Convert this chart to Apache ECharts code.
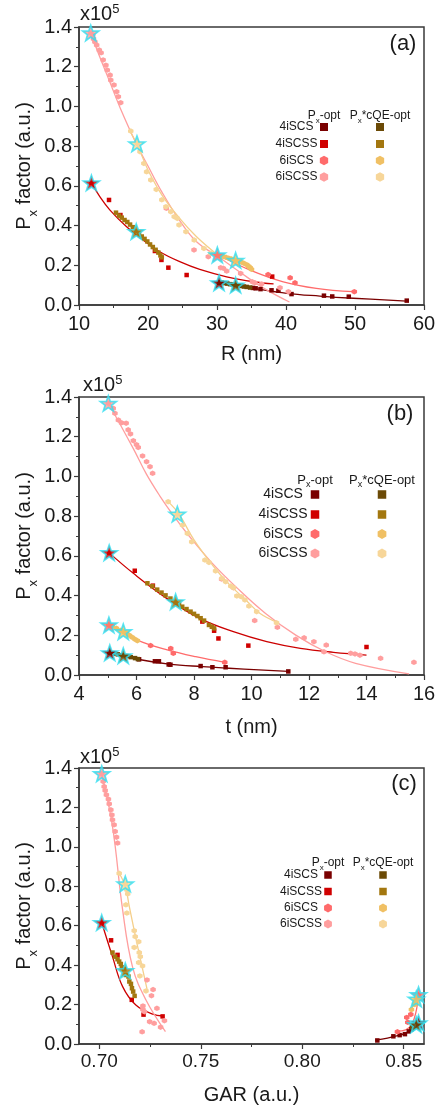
<!DOCTYPE html>
<html><head><meta charset="utf-8">
<script src="https://cdn.jsdelivr.net/npm/echarts@6/dist/echarts.min.js"></script>
<style>html,body{margin:0;padding:0;background:#fff;}#c{width:442px;height:1110px;}</style>
</head><body><div id="c"></div>
<script>
// ---------- tick labels ----------
const yTicks = [0, 0.2, 0.4, 0.6, 0.8, 1.0, 1.2, 1.4];
const xTicksA = [10, 20, 30, 40, 50, 60];
const xTicksB = [4, 6, 8, 10, 12, 14, 16];
const xTicksC = [0.70, 0.75, 0.80, 0.85];
const xMinorC = [0.725, 0.775, 0.825];
const seriesNames = ['4iSCS', '4iSCSS', '6iSCS', '6iSCSS'];

// ---------- panel (a): R (nm) ----------
const A_4iSCS_px = [[30.3,0.112],[35.2,0.086],[35.6,0.084],[36.3,0.08],[37.9,0.074],[38.9,0.072],[40.8,0.055],[45.5,0.047],[46.7,0.043],[49.1,0.042],[57.5,0.022]];
const A_4iSCSS_px = [[11.8,0.615],[14.35,0.529],[16.0,0.453],[21.0,0.272],[21.95,0.227],[22.95,0.188],[25.6,0.151],[38.0,0.143]];
const A_6iSCS_px = [[30.05,0.252],[37.4,0.153],[40.6,0.137],[41.3,0.112],[49.9,0.067]];
const A_6iSCSS_px = [[11.7,1.37],[12.0,1.36],[12.1,1.34],[12.3,1.325],[12.56,1.309],[12.94,1.284],[13.2,1.27],[13.5,1.234],[13.9,1.208],[14.1,1.183],[14.5,1.158],[14.6,1.133],[15.07,1.108],[15.46,1.074],[15.7,1.049],[16.04,1.019],
  [22.66,0.487],[26.67,0.277],[28.74,0.243],[30.53,0.188],[30.92,0.185],[31.4,0.171],[33.43,0.159],[35.12,0.117],[35.5,0.112],[36.47,0.106],[39.13,0.087],[40.34,0.067]];
const A_4iSCS_qe = [[30.3,0.114],[30.7,0.112],[31.1,0.11],[31.5,0.108],[31.9,0.105],[32.3,0.103],[32.7,0.1],[33.1,0.098],[33.5,0.096],[33.9,0.093],[34.3,0.091],[34.8,0.088]];
const A_4iSCSS_qe = [[15.36,0.465],[15.8,0.45],[16.2,0.44],[16.6,0.428],[17.0,0.418],[17.4,0.405],[17.8,0.392],[18.3,0.372],[18.7,0.36],[19.1,0.345],[19.5,0.333],[19.9,0.32],[20.3,0.305],[20.7,0.292],[21.1,0.278],[21.5,0.264],[21.8,0.25],[22.0,0.24]];
const A_6iSCS_qe = [[30.1,0.252],[30.5,0.248],[30.9,0.244],[31.3,0.24],[31.7,0.236],[32.1,0.232],[32.7,0.225],[33.1,0.221],[33.5,0.216],[33.9,0.21],[34.3,0.203],[34.6,0.195],[34.8,0.188],[35.0,0.18]];
const A_6iSCSS_qe = [[17.5,0.876],[18.45,0.814],[18.84,0.772],[19.4,0.713],[19.8,0.671],[20.4,0.63],[21.2,0.582],[22.0,0.53],[22.6,0.495],[23.3,0.47],[23.8,0.445],[24.25,0.436],[24.5,0.403],[25.5,0.369],[26.7,0.327],[28.1,0.285],[29.1,0.26]];
const A_fit_4iSCS_px = [[30.2,0.112],[35.3,0.084],[40.1,0.059],[44.9,0.045],[49.75,0.034],[57.5,0.02]];
const A_fit_4iSCSS_px = [[11.8,0.615],[13.04,0.545],[14.49,0.478],[16.9,0.394],[19.3,0.327],[21.7,0.268],[24.6,0.218],[27.5,0.179],[31.4,0.142],[35.3,0.117],[38.2,0.106]];
const A_fit_6iSCS_px = [[30.2,0.252],[34.8,0.176],[39.6,0.117],[44.4,0.084],[49.75,0.067]];
const A_fit_6iSCSS_px = [[11.7,1.37],[13.0,1.25],[14.5,1.12],[16.0,0.99],[18.2,0.82],[20.0,0.70],[22.0,0.57],[24.5,0.43],[27.0,0.32],[30.3,0.24],[34.2,0.144],[37.0,0.08],[40.5,0.015]];
const A_fit_6iSCS_qe = [[30.1,0.252],[32.7,0.225],[35.0,0.183]];
const A_fit_6iSCSS_qe = [[17.3,0.88],[18.4,0.81],[20.0,0.68],[22.0,0.555],[24.5,0.44],[27.0,0.345],[30.1,0.252]];
const A_stars = [[30.3,0.112],[11.8,0.615],[30.05,0.252],[11.7,1.37],[32.7,0.10],[18.3,0.37],[32.7,0.225],[18.4,0.812]];

// ---------- panel (b): t (nm) ----------
const B_4iSCS_px = [[5.07,0.112],[6.09,0.079],[6.64,0.069],[6.78,0.069],[7.12,0.053],[7.18,0.052],[8.23,0.045],[8.64,0.039],[9.1,0.039],[11.28,0.018]];
const B_4iSCSS_px = [[5.05,0.616],[5.94,0.525],[6.57,0.45],[8.29,0.269],[8.7,0.223],[8.85,0.184],[9.89,0.148],[14.0,0.141]];
const B_6iSCS_px = [[5.04,0.252],[6.49,0.148],[7.19,0.134],[7.28,0.109],[9.07,0.064]];
const B_6iSCSS_px = [[5.02,1.368],[5.19,1.343],[5.25,1.318],[5.37,1.284],[5.48,1.27],[5.64,1.268],[5.71,1.235],[5.79,1.214],[5.89,1.18],[6.0,1.16],[6.06,1.146],[6.21,1.103],[6.35,1.074],[6.47,1.049],[6.56,1.016],
  [8.96,0.483],[9.37,0.44],[10.11,0.274],[10.9,0.24],[11.54,0.18],[11.83,0.187],[12.17,0.168],[12.6,0.151],[12.52,0.117],[13.45,0.109],[13.6,0.106],[13.77,0.10],[14.49,0.084],[15.65,0.064]];
const B_4iSCS_qe = [[5.05,0.112],[5.2,0.108],[5.35,0.104],[5.5,0.099],[5.65,0.095],[5.8,0.09],[5.95,0.085],[6.05,0.08]];
const B_4iSCSS_qe = [[6.38,0.462],[6.55,0.447],[6.72,0.43],[6.87,0.415],[7.01,0.401],[7.18,0.385],[7.36,0.369],[7.48,0.356],[7.59,0.344],[7.74,0.332],[7.88,0.319],[8.0,0.308],[8.12,0.297],[8.23,0.286],[8.35,0.274],[8.52,0.252],[8.62,0.243],[8.70,0.235]];
const B_6iSCS_qe = [[5.04,0.252],[5.15,0.245],[5.3,0.235],[5.45,0.225],[5.55,0.218],[5.65,0.21],[5.75,0.2],[5.85,0.19],[5.95,0.18],[6.03,0.173]];
const B_6iSCSS_qe = [[7.1,0.873],[7.42,0.81],[7.6,0.755],[7.77,0.713],[7.92,0.671],[8.38,0.579],[8.52,0.567],[8.75,0.524],[8.97,0.487],[9.1,0.47],[9.28,0.448],[9.37,0.44],[9.49,0.398],[9.65,0.394],[9.77,0.378],[9.91,0.347],[10.18,0.319],[10.87,0.263]];
const B_fit_4iSCS_px = [[5.07,0.112],[6.09,0.078],[7.13,0.055],[8.29,0.042],[9.22,0.034],[10.26,0.026],[11.28,0.018]];
const B_fit_4iSCSS_px = [[5.05,0.615],[5.89,0.512],[7.05,0.386],[8.2,0.285],[9.37,0.218],[10.53,0.168],[11.7,0.134],[12.85,0.114],[14.0,0.10]];
const B_fit_6iSCS_px = [[5.04,0.252],[6.03,0.176],[7.01,0.129],[8.06,0.092],[9.07,0.064]];
const B_fit_6iSCSS_px = [[5.02,1.37],[5.89,1.14],[6.35,1.01],[6.82,0.9],[7.3,0.8],[7.83,0.70],[8.64,0.562],[9.45,0.445],[10.49,0.31],[11.54,0.201],[12.58,0.117],[13.62,0.059],[15.48,0.006]];
const B_fit_6iSCS_qe = [[5.04,0.252],[5.54,0.218],[6.03,0.173]];
const B_fit_6iSCSS_qe = [[7.1,0.873],[7.48,0.81],[8.0,0.68],[8.64,0.554],[9.2,0.46],[9.8,0.378],[10.3,0.31],[10.9,0.265]];
const B_stars = [[5.07,0.112],[5.05,0.616],[5.04,0.252],[5.02,1.368],[5.54,0.097],[7.36,0.369],[5.54,0.218],[7.42,0.81]];

// ---------- panel (c): GAR (a.u.) ----------
const C_4iSCS_px = [[0.837,0.018],[0.8449,0.039],[0.848,0.045],[0.8506,0.05],[0.8525,0.064],[0.8538,0.075],[0.8554,0.089],[0.8573,0.107]];
const C_4iSCSS_px = [[0.7012,0.616],[0.7058,0.526],[0.709,0.452],[0.716,0.224],[0.7218,0.149],[0.7312,0.14]];
const C_6iSCS_px = [[0.8469,0.062],[0.8515,0.135],[0.852,0.11],[0.8535,0.15],[0.8573,0.25]];
const C_6iSCSS_px = [[0.7012,1.371],[0.7019,1.332],[0.7024,1.306],[0.7029,1.286],[0.7035,1.264],[0.7045,1.242],[0.7049,1.218],[0.7057,1.188],[0.7062,1.162],[0.7065,1.137],[0.7073,1.112],[0.7078,1.078],[0.7085,1.049],[0.709,1.019],
  [0.7235,0.325],[0.7265,0.276],[0.7257,0.245],[0.7215,0.193],[0.7215,0.175],[0.7222,0.164],[0.7284,0.181],[0.7248,0.113],[0.727,0.105],[0.7302,0.085],[0.7321,0.118],[0.7211,0.062]];
const C_4iSCS_qe = [[0.8541,0.085],[0.8554,0.092],[0.8565,0.1],[0.857,0.107]];
const C_4iSCSS_qe = [[0.7065,0.464],[0.7078,0.443],[0.709,0.43],[0.7098,0.418],[0.7106,0.406],[0.7111,0.389],[0.7123,0.379],[0.7131,0.35],[0.7144,0.342],[0.7148,0.317],[0.7156,0.305],[0.7161,0.283],[0.7167,0.266],[0.7174,0.244]];
const C_6iSCS_qe = [[0.8538,0.175],[0.8554,0.2],[0.8562,0.225],[0.857,0.24]];
const C_6iSCSS_qe = [[0.7098,0.866],[0.7128,0.812],[0.7136,0.782],[0.714,0.762],[0.7131,0.706],[0.7136,0.664],[0.7172,0.575],[0.7177,0.545],[0.7172,0.49],[0.7194,0.519],[0.7197,0.464],[0.7202,0.443],[0.7194,0.413],[0.7213,0.396],[0.72,0.345],[0.723,0.269]];
const C_fit_4iSCS_px = [[0.836,0.02],[0.842,0.03],[0.847,0.042],[0.851,0.055],[0.854,0.072],[0.8573,0.107]];
const C_fit_4iSCSS_px = [[0.7012,0.616],[0.7065,0.443],[0.7115,0.291],[0.718,0.198],[0.7263,0.152],[0.7313,0.142]];
const C_fit_6iSCS_px = [[0.8465,0.065],[0.851,0.072],[0.854,0.1],[0.856,0.16],[0.8573,0.25]];
const C_fit_6iSCSS_px = [[0.7012,1.37],[0.7065,1.104],[0.7115,0.68],[0.7164,0.39],[0.723,0.223],[0.7326,0.063]];
const C_fit_6iSCS_qe = [[0.8538,0.175],[0.8573,0.25]];
const C_fit_6iSCSS_qe = [[0.7098,0.866],[0.7128,0.80],[0.7148,0.697],[0.7189,0.494],[0.7238,0.266]];
const C_stars = [[0.8573,0.107],[0.7012,0.616],[0.8573,0.25],[0.7012,1.371],[0.8562,0.098],[0.7128,0.372],[0.8562,0.228],[0.7128,0.812]];

// ---------- styling ----------
const FONT = 'Liberation Sans, Arial, sans-serif';
const TXT = '#1a1a1a';
const AX = '#3a3a3a';
const COLORS = ['#7a0000','#d00000','#ff6b6b','#ff9e9e','#6b4a06','#a3770f','#f0c064','#f7d699'];
const FITCOL = ['#7a0000','#cc0000','#ff6b6b','#ff9e9e',null,null,'#f0c064','#f5cf8a'];
const HEX = 'path://M0,-10L8.66,-5L8.66,5L0,10L-8.66,5L-8.66,-5Z';
const STAR = 'path://M0,-10L2.35,-3.24L9.51,-3.09L3.8,1.24L5.88,8.09L0,4L-5.88,8.09L-3.8,1.24L-9.51,-3.09L-2.35,-3.24Z';
const SYM = ['rect','rect',HEX,HEX,'rect','rect',HEX,HEX];

const grids = [
  {left:79, top:27, width:345, height:278},
  {left:79, top:397, width:345, height:278},
  {left:79, top:768, width:345, height:276}
].map(g => Object.assign(g, {show:true, borderColor:AX, borderWidth:1.5, backgroundColor:'transparent'}));

function yAxis(gi){
  return {type:'value', gridIndex:gi, min:0, max:1.4, interval:0.2,
    axisLine:{show:true, lineStyle:{color:AX, width:1.5}},
    axisTick:{show:true, length:5, lineStyle:{color:AX, width:1.2}},
    minorTick:{show:true, splitNumber:2, length:3, lineStyle:{color:AX, width:1}},
    splitLine:{show:false},
    axisLabel:{fontSize:20, color:TXT, fontFamily:FONT, margin:7, formatter:v=>yTicks.indexOf(+v.toFixed(1))>=0? v.toFixed(1):''}};
}
function xAxis(gi, min, max, interval, name, gap){
  return {type:'value', gridIndex:gi, min, max, interval,
    name, nameLocation:'middle', nameGap:gap, nameTextStyle:{fontSize:20, color:TXT, fontFamily:FONT},
    axisLine:{show:true, lineStyle:{color:AX, width:1.5}},
    axisTick:{show:true, length:5, lineStyle:{color:AX, width:1.2}},
    minorTick:{show:true, splitNumber:2, length:3, lineStyle:{color:AX, width:1}},
    splitLine:{show:false},
    axisLabel:{fontSize:20, color:TXT, fontFamily:FONT, margin:9}};
}
const xAxes = [
  xAxis(0, xTicksA[0], xTicksA[xTicksA.length-1], 10, 'R (nm)', 39),
  xAxis(1, xTicksB[0], xTicksB[xTicksB.length-1], 2, 't (nm)', 42),
  {type:'value', gridIndex:2, min:0.69, max:0.86, name:'GAR (a.u.)', nameLocation:'middle', nameGap:41,
    nameTextStyle:{fontSize:20, color:TXT, fontFamily:FONT},
    axisLine:{show:true, lineStyle:{color:AX, width:1.5}},
    axisTick:{show:true, length:5, customValues:xTicksC, lineStyle:{color:AX, width:1.2}},
    splitLine:{show:false},
    axisLabel:{fontSize:19, color:TXT, fontFamily:FONT, margin:8, customValues:xTicksC, formatter:v=>v.toFixed(2)}},
  {type:'value', gridIndex:2, min:0.69, max:0.86, position:'bottom',
    axisLine:{show:false}, splitLine:{show:false},
    axisTick:{show:true, length:3, customValues:xMinorC, lineStyle:{color:AX, width:1}},
    axisLabel:{show:false, customValues:xMinorC}}
];

function build(gi, pts, fits, stars){
  const s = [];
  fits.forEach((f,i)=>{ if(f) s.push({type:'line', xAxisIndex:gi, yAxisIndex:gi, data:f, smooth:0.4, symbol:'none',
    lineStyle:{color:FITCOL[i], width:1.3}, z:2, silent:true}); });
  pts.forEach((p,i)=>{ if(p) s.push({type:'scatter', name:seriesNames[i%4], xAxisIndex:gi, yAxisIndex:gi, data:p, symbol:SYM[i],
    symbolSize: SYM[i]==='rect'?4.5:5.5, itemStyle:{color:COLORS[i], opacity:1}, z:3}); });
  s.push({type:'scatter', xAxisIndex:gi, yAxisIndex:gi, symbol:STAR, symbolSize:16, symbolKeepAspect:true,
    data:stars.map((p,i)=>({value:p, itemStyle:{color:COLORS[i]}})),
    itemStyle:{borderColor:'#2fe0f2', borderWidth:1.7}, z:4});
  return s;
}

const series = [].concat(
  build(0, [A_4iSCS_px,A_4iSCSS_px,A_6iSCS_px,A_6iSCSS_px,A_4iSCS_qe,A_4iSCSS_qe,A_6iSCS_qe,A_6iSCSS_qe],
           [A_fit_4iSCS_px,A_fit_4iSCSS_px,A_fit_6iSCS_px,A_fit_6iSCSS_px,null,null,A_fit_6iSCS_qe,A_fit_6iSCSS_qe], A_stars),
  build(1, [B_4iSCS_px,B_4iSCSS_px,B_6iSCS_px,B_6iSCSS_px,B_4iSCS_qe,B_4iSCSS_qe,B_6iSCS_qe,B_6iSCSS_qe],
           [B_fit_4iSCS_px,B_fit_4iSCSS_px,B_fit_6iSCS_px,B_fit_6iSCSS_px,null,null,B_fit_6iSCS_qe,B_fit_6iSCSS_qe], B_stars),
  build(2, [C_4iSCS_px,C_4iSCSS_px,C_6iSCS_px,C_6iSCSS_px,C_4iSCS_qe,C_4iSCSS_qe,C_6iSCS_qe,C_6iSCSS_qe],
           [C_fit_4iSCS_px,C_fit_4iSCSS_px,C_fit_6iSCS_px,C_fit_6iSCSS_px,null,null,C_fit_6iSCS_qe,C_fit_6iSCSS_qe], C_stars)
);

// ---------- text / legend graphics ----------
function txt(x, y, text, size, align, extra){
  return Object.assign({type:'text', x, y, z:100, style:{text, fontSize:size, fontFamily:FONT, fill:TXT,
    align:align||'center', textAlign:align||'center', verticalAlign:'middle', textVerticalAlign:'middle'}}, extra||{});
}
function rich(x, y, text, richDef, align, rotation){
  const r = {};
  Object.keys(richDef).forEach(k=>{ r[k] = Object.assign({fontFamily:FONT, fill:TXT}, richDef[k]); });
  const el = {type:'text', x, y, z:100, style:{text, rich:r, fontFamily:FONT, fill:TXT,
    align:align||'center', textAlign:align||'center', verticalAlign:'middle', textVerticalAlign:'middle'}};
  if (rotation) el.rotation = rotation;
  return el;
}
function hexPts(cx, cy, r){
  const p=[]; for(let k=0;k<6;k++){ const a=Math.PI/180*(60*k-90); p.push([cx+r*Math.cos(a), cy+r*Math.sin(a)]); } return p;
}
function legend(L){
  const g = [];
  g.push(rich(L.c1, L.hy, '{m|P}{s|x}{m|-opt}', {m:{fontSize:L.hs, lineHeight:L.hs+5}, s:{fontSize:L.hs-4, lineHeight:L.hs-4, verticalAlign:'bottom'}}));
  g.push(rich(L.c2, L.hy, '{m|P}{s|x}{m|*cQE-opt}', {m:{fontSize:L.hs, lineHeight:L.hs+5}, s:{fontSize:L.hs-4, lineHeight:L.hs-4, verticalAlign:'bottom'}}));
  seriesNames.forEach((nm,i)=>{
    const y = L.rows[i];
    g.push(txt(L.lx, y, nm, L.fs, 'center'));
    [L.c1, L.c2].forEach((cx,j)=>{
      const col = COLORS[i + 4*j];
      if (i < 2) g.push({type:'rect', z:100, shape:{x:cx-L.m/2, y:y-L.m/2, width:L.m, height:L.m}, style:{fill:col}});
      else g.push({type:'polygon', z:100, shape:{points:hexPts(cx, y, L.m/2+0.8)}, style:{fill:col}});
    });
  });
  return g;
}
const ylab = '{m|P}{s|x}{m| factor (a.u.)}';
const ylabRich = {m:{fontSize:20, lineHeight:32}, s:{fontSize:13, lineHeight:13, verticalAlign:'bottom'}};
const supRich = {m:{fontSize:20, lineHeight:23}, s:{fontSize:13, lineHeight:13, verticalAlign:'top'}};

const graphic = [].concat(
  [rich(24, 166, ylab, ylabRich, 'center', Math.PI/2),
   rich(24, 536, ylab, ylabRich, 'center', Math.PI/2),
   rich(24, 906, ylab, ylabRich, 'center', Math.PI/2),
   rich(80, 14, '{m|x10}{s|5}', supRich, 'left'),
   rich(83, 385, '{m|x10}{s|5}', supRich, 'left'),
   rich(80, 757, '{m|x10}{s|5}', supRich, 'left'),
   txt(403, 44, '(a)', 22), txt(400, 414, '(b)', 22), txt(404, 784, '(c)', 22)],
  legend({c1:324, c2:380, hy:116, rows:[127,144,160.5,177], lx:296.5, fs:12, hs:12, m:8}),
  legend({c1:315, c2:382, hy:480, rows:[494.5,514.5,534,553.5], lx:283, fs:14, hs:13, m:8.5}),
  legend({c1:328, c2:383, hy:863, rows:[875,891.5,908,924], lx:301, fs:12, hs:12, m:7.5})
);

const chart = echarts.init(document.getElementById('c'), null, {renderer:'canvas'});
chart.setOption({
  animation:false,
  backgroundColor:'#fff',
  grid:grids,
  xAxis:xAxes,
  yAxis:[yAxis(0), yAxis(1), yAxis(2)],
  series,
  graphic
});
</script></body></html>
